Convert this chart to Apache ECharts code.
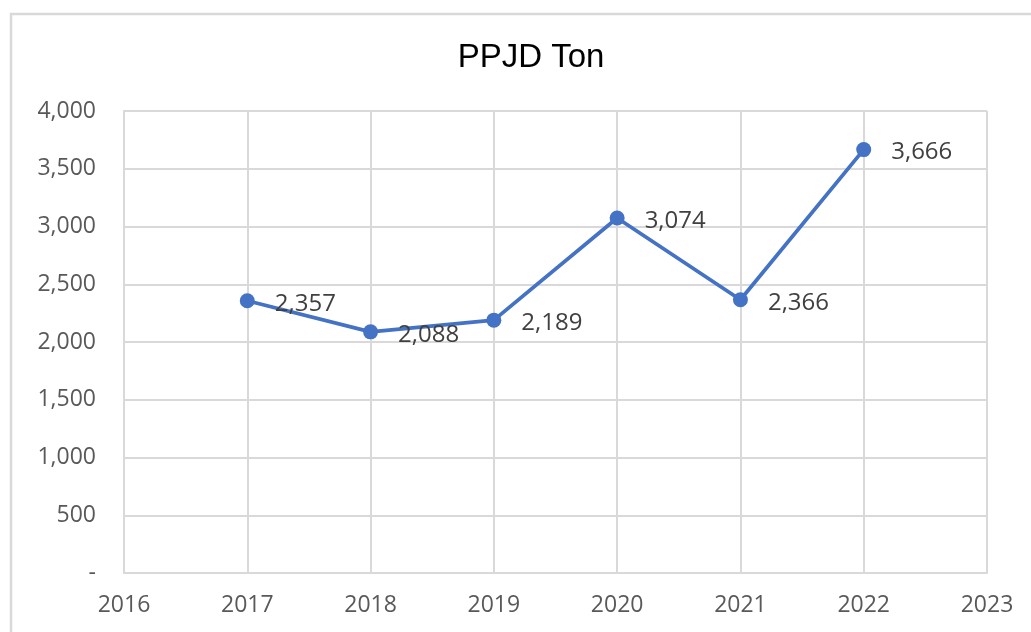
<!DOCTYPE html>
<html>
<head>
<meta charset="utf-8">
<script src="https://cdn.jsdelivr.net/npm/echarts@6/dist/echarts.min.js"></script>
<style>
html,body{margin:0;padding:0;background:#fff;}
#chart{width:1031px;height:632px;}
</style>
</head>
<body>
<div id="chart"></div>
<script>
var chartTitle = 'PPJD Ton';
var years = [2017, 2018, 2019, 2020, 2021, 2022];
var tons = [2357, 2088, 2189, 3074, 2366, 3666];
var xRange = [2016, 2023];
var yRange = [0, 4000];

var gridColor = '#d9d9d9';
var chart = echarts.init(document.getElementById('chart'));
var points = years.map(function (y, i) { return [y, tons[i]]; });

chart.setOption({
  animation: false,
  backgroundColor: '#ffffff',
  graphic: [{
    type: 'rect',
    shape: { x: 11, y: 14, width: 1060, height: 660 },
    style: { fill: 'none', stroke: gridColor, lineWidth: 2.5 },
    silent: true
  }],
  title: {
    text: chartTitle,
    left: 526,
    top: 36,
    textAlign: 'center',
    textStyle: { fontFamily: 'Liberation Sans, Arial, sans-serif', fontSize: 33, fontWeight: 'normal', color: '#000000' }
  },
  grid: { left: 124, right: 44, top: 111, bottom: 59, containLabel: false },
  xAxis: {
    type: 'value',
    min: xRange[0], max: xRange[1], interval: 1,
    axisLine: { show: true, lineStyle: { color: gridColor, width: 2 } },
    axisTick: { show: false },
    splitLine: { show: true, lineStyle: { color: gridColor, width: 2 } },
    axisLabel: {
      margin: 21,
      color: '#595959',
      fontFamily: 'Open Sans, sans-serif',
      fontSize: 23,
      formatter: function (v) { return String(v); }
    }
  },
  yAxis: {
    type: 'value',
    min: yRange[0], max: yRange[1], interval: 500,
    axisLine: { show: true, lineStyle: { color: gridColor, width: 2 } },
    axisTick: { show: false },
    splitLine: { show: true, lineStyle: { color: gridColor, width: 2 } },
    axisLabel: {
      margin: 28,
      color: '#595959',
      fontFamily: 'Open Sans, sans-serif',
      fontSize: 23,
      formatter: function (v) { return v === 0 ? '-' : v.toLocaleString('en-US'); }
    }
  },
  series: [{
    type: 'line',
    data: points,
    symbol: 'circle',
    symbolSize: 15,
    lineStyle: { color: '#4472C4', width: 3.75 },
    itemStyle: { color: '#4472C4' },
    label: {
      show: true,
      position: 'right',
      distance: 20,
      offset: [0, 3],
      color: '#404040',
      fontFamily: 'Open Sans, sans-serif',
      fontSize: 24,
      formatter: function (p) { return p.value[1].toLocaleString('en-US'); }
    }
  }]
});
</script>
</body>
</html>
